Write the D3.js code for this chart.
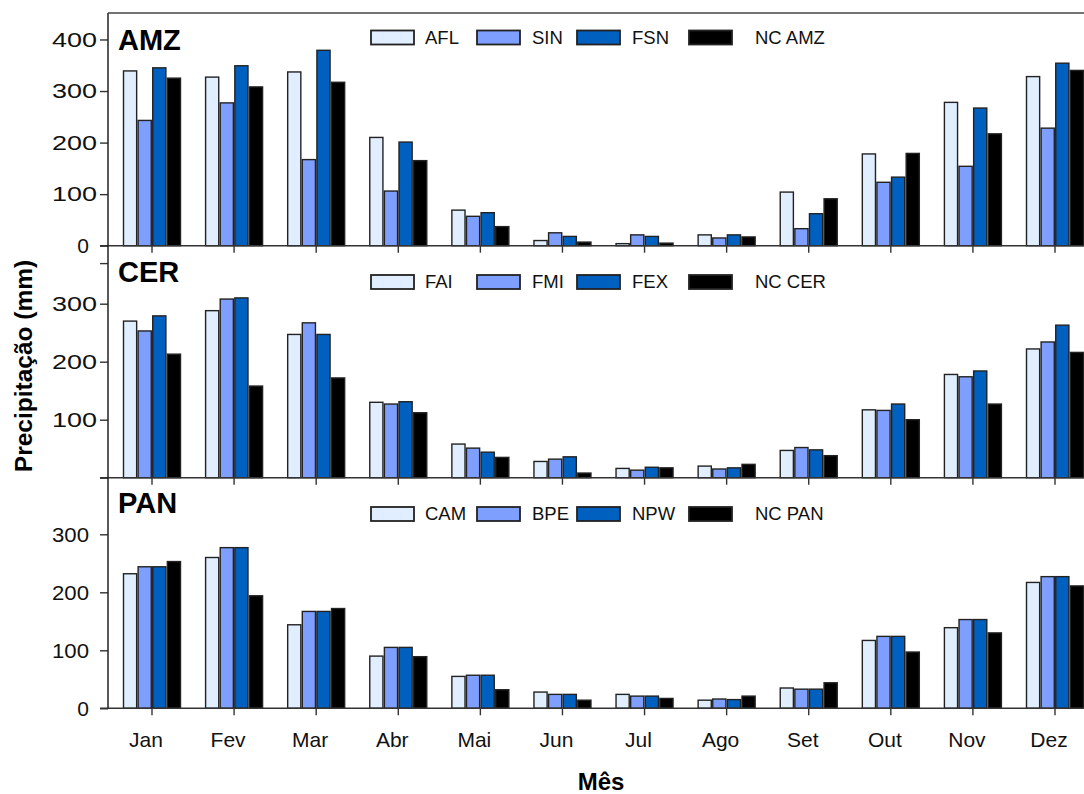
<!DOCTYPE html>
<html>
<head>
<meta charset="utf-8">
<script src="https://cdn.jsdelivr.net/npm/d3@7"></script>
<style>
  body { margin: 0; background: #fff; }
  svg { display: block; font-family: "Liberation Sans", Arial, sans-serif; }
</style>
</head>
<body>
<svg width="1084" height="794"></svg>
<script>
var months = ["Jan", "Fev", "Mar", "Abr", "Mai", "Jun", "Jul", "Ago", "Set", "Out", "Nov", "Dez"];

// AMZ
var amzNames = ["AFL", "SIN", "FSN", "NC AMZ"];
var amzAFL = [339, 327, 337, 210, 69, 10, 4, 21, 104, 178, 278, 328];
var amzSIN = [243, 277, 167, 106, 57, 25, 21, 15, 33, 123, 154, 228];
var amzFSN = [345, 349, 379, 201, 64, 18, 18, 21, 62, 133, 267, 354];
var amzNC  = [325, 308, 317, 165, 37, 7, 5, 17, 91, 179, 217, 340];
var amzTicks = [0, 100, 200, 300, 400];

// CER
var cerNames = ["FAI", "FMI", "FEX", "NC CER"];
var cerFAI = [270, 288, 247, 130, 58, 28, 16, 20, 47, 117, 178, 222];
var cerFMI = [253, 308, 267, 127, 51, 32, 13, 15, 52, 116, 174, 234];
var cerFEX = [279, 310, 247, 131, 44, 36, 18, 17, 48, 127, 184, 263];
var cerNC  = [213, 158, 172, 112, 35, 8, 17, 23, 38, 100, 127, 216];
var cerTicks = [0, 100, 200, 300, 370];

// PAN
var panNames = ["CAM", "BPE", "NPW", "NC PAN"];
var panCAM = [232, 260, 144, 90, 55, 28, 24, 14, 35, 117, 139, 217];
var panBPE = [244, 277, 167, 105, 57, 24, 21, 16, 33, 124, 153, 227];
var panNPW = [244, 277, 167, 105, 57, 24, 21, 15, 33, 124, 153, 227];
var panNC  = [253, 194, 172, 89, 32, 14, 17, 21, 44, 97, 130, 211];
var panTicks = [0, 100, 200, 300];

var svg = d3.select("svg"),
    axis_x = 108, right_x = 1084,
    clrs = ["#e0eeff", "#7f9fff", "#0060c0", "#000000"],
    stroke_clr = "#222", axis_clr = "#333",
    panel_h = 232;

var panels = [
  { label: "AMZ", names: amzNames, series: [amzAFL, amzSIN, amzFSN, amzNC], bottom: 245.7, max: 450, ticks: amzTicks, labelEnd: -11, wide: 45, legendY: 37.5 },
  { label: "CER", names: cerNames, series: [cerFAI, cerFMI, cerFEX, cerNC], bottom: 477.7, max: 400, ticks: cerTicks, labelEnd: -11, wide: 45, legendY: 282 },
  { label: "PAN", names: panNames, series: [panCAM, panBPE, panNPW, panNC], bottom: 708.3, max: 400, ticks: panTicks, labelEnd: -19, wide: 37, legendY: 514 }
];

var legend_sw_x = [371, 477, 577, 689],
    legend_tx_x = [425, 532, 632, 755];

var x0 = d3.scalePoint().domain(months).range([152, 1055]);
var x1 = d3.scaleBand().domain(d3.range(4)).range([-28.5, 28.5]).paddingInner(0.1);

/***********************************************************************************************/

panels.forEach(function(p){
  var y = d3.scaleLinear().domain([0, p.max]).range([p.bottom, p.bottom - panel_h]);
  var g = svg.append("g");

  // bars
  p.series.forEach(function(vals, s){
    g.selectAll(null).data(vals).enter().append("rect")
      .attr("x", function(d, i){ return x0(months[i]) + x1(s); })
      .attr("width", x1.bandwidth())
      .attr("y", function(d){ return y(d); })
      .attr("height", function(d){ return y(0) - y(d); })
      .style("fill", clrs[s]).style("stroke", stroke_clr).style("stroke-width", 1.4);
  });

  // baseline + x ticks
  g.append("line")
    .attr("x1", 100).attr("x2", right_x).attr("y1", y(0)).attr("y2", y(0))
    .style("stroke", axis_clr).style("stroke-width", 1.4);
  g.selectAll(null).data(months).enter().append("line")
    .attr("x1", function(d){ return x0(d); }).attr("x2", function(d){ return x0(d); })
    .attr("y1", y(0)).attr("y2", y(0) + 7)
    .style("stroke", axis_clr).style("stroke-width", 1.4);

  // y axis
  var ax = g.append("g").attr("transform", "translate(" + axis_x + ",0)")
    .call(d3.axisLeft(y).tickValues(p.ticks).tickSize(8)
      .tickFormat(function(d){ return (p.label == "CER" && (d == 0 || d == 370)) ? "" : d; }));
  ax.select(".domain").remove();
  ax.selectAll("line").style("stroke", axis_clr).style("stroke-width", 1.4);
  ax.selectAll("text")
    .attr("x", function(d){ return d == 0 ? -19 : p.labelEnd; })
    .attr("textLength", function(d){ return d >= 100 ? p.wide : null; })
    .attr("lengthAdjust", "spacingAndGlyphs")
    .style("font-size", "21px").style("fill", "#111")
    .style("font-family", "'Liberation Sans', Arial, sans-serif");

  // panel label
  svg.append("text").attr("x", 118).attr("y", p.bottom - panel_h + 36.5)
    .text(p.label).style("font-size", "29px").style("font-weight", "bold").style("fill", "#000");

  // legend
  p.names.forEach(function(n, s){
    svg.append("rect")
      .attr("x", legend_sw_x[s]).attr("y", p.legendY - 7).attr("width", 43).attr("height", 14)
      .style("fill", clrs[s]).style("stroke", stroke_clr).style("stroke-width", 1.8);
    svg.append("text")
      .attr("x", legend_tx_x[s]).attr("y", p.legendY).attr("dy", "0.35em")
      .text(n).style("font-size", "18.5px").style("fill", "#111");
  });

  // month labels only at the bottom
  if(p.label == "PAN"){
    svg.selectAll(null).data(months).enter().append("text")
      .attr("x", function(d){ return x0(d) - 6; }).attr("y", 747)
      .attr("text-anchor", "middle")
      .text(function(d){ return d; })
      .style("font-size", "21px").style("fill", "#111");
  }
});

// left axis line and top frame
svg.append("line").attr("x1", axis_x).attr("x2", axis_x).attr("y1", 13).attr("y2", 708.3)
  .style("stroke", "#222").style("stroke-width", 1.5);
svg.append("line").attr("x1", axis_x).attr("x2", right_x).attr("y1", 13).attr("y2", 13)
  .style("stroke", "#444").style("stroke-width", 1.4);

// axis titles
svg.append("text").attr("x", 601).attr("y", 790).attr("text-anchor", "middle")
  .text("Mês").style("font-size", "24px").style("font-weight", "bold");
svg.append("text").attr("transform", "translate(32,366) rotate(-90)").attr("text-anchor", "middle")
  .text("Precipitação (mm)").style("font-size", "24.5px").style("font-weight", "bold");
</script>
</body>
</html>
